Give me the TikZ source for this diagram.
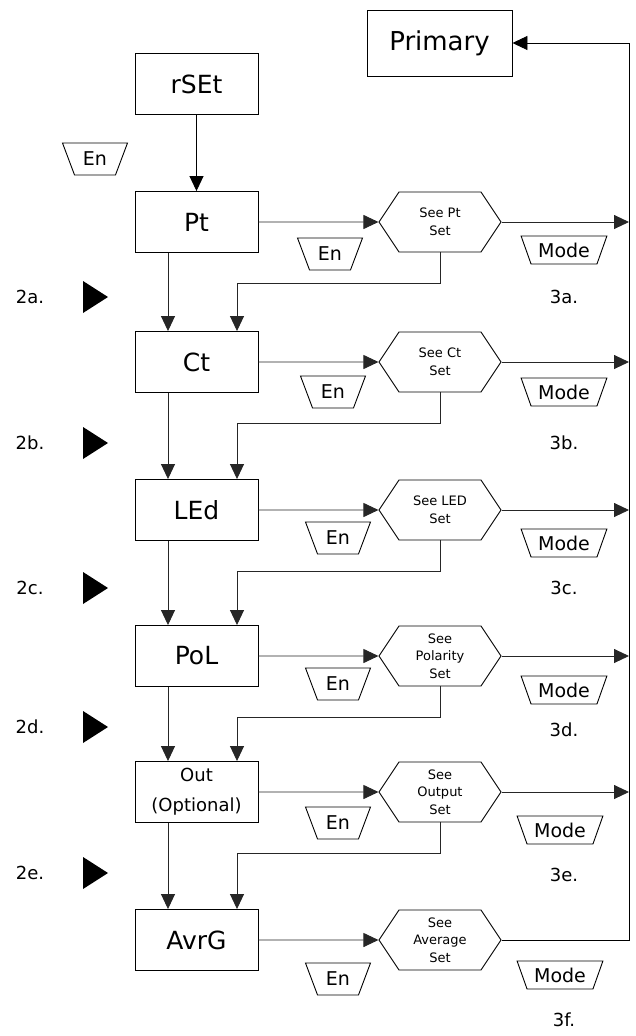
\documentclass[tikz,border=0pt]{standalone}
\usepackage{fontspec}
\setmainfont{DejaVu Sans}
\usetikzlibrary{calc}
\usetikzlibrary{shapes.geometric,shapes.symbols}
\usetikzlibrary{arrows.meta}

\begin{document}
\begin{tikzpicture}[x=1pt, y=-1pt, line width=0.9pt,
  flow/.style={-{Triangle[length=15pt,width=14pt]}},
  box/.style={draw, minimum width=123pt, minimum height=61pt, inner sep=0pt, align=center, font=\fontsize{25}{28}\selectfont},
  box 5/.style={font=\fontsize{18}{30}\selectfont},
  setbox/.style={draw, signal, signal to=east and west, signal pointer angle=112.6, minimum width=122pt, minimum height=60pt, inner sep=0pt, align=center, font=\fontsize{13}{17.5}\selectfont},
  key/.style={draw, trapezium, trapezium stretches=true, shape border rotate=180, trapezium left angle=63, trapezium right angle=63, minimum width=65pt, minimum height=32pt, inner sep=0pt, font=\fontsize{19}{20}\selectfont},
  modekey/.style={key, trapezium left angle=62, trapezium right angle=62, minimum width=86pt, minimum height=28pt},
  num/.style={font=\fontsize{18}{20}\selectfont},
  link/.style={flow, draw=black!85}]

\useasboundingbox (0,0) rectangle (636,1036);

\node [box] (rset) at (196.5,84) {rSEt};
\node [box, minimum width=145pt, minimum height=66pt, font=\fontsize{26}{28}\selectfont] (primary) at (439.5,43) {Primary};
\node [key] (en-0) at (95,159) {En};
\coordinate (rail) at (629,43);

\foreach \m/\l/\y in {1/Pt/222, 2/Ct/362, 3/LEd/510, 4/PoL/656, 5/{Out\\(Optional)}/792, 6/AvrG/940}
  \node [box, box \m/.try] (step-\m) at (196.5,\y) {\l};

\foreach \m/\l/\y in {1/{See Pt\\Set}/222, 2/{See Ct\\Set}/362, 3/{See LED\\Set}/510, 4/{See\\Polarity\\Set}/656, 5/{See\\Output\\Set}/792, 6/{See\\Average\\Set}/940}
  \node [setbox] (set-\m) at (440,\y) {\l};

\foreach \m/\x/\y in {1/330/254, 2/333/392, 3/338/538, 4/338/684, 5/338/823, 6/338/979}
  \node [key] (en-\m) at (\x,\y) {En};

\foreach \m/\x/\y in {1/564/250, 2/564/392, 3/564/543, 4/564/690, 5/560/830, 6/560/975}
  \node [modekey] (mode-\m) at (\x,\y) {Mode};

% left side markers
\foreach \l/\y in {a/297, b/443, c/588, d/727, e/873} {
  \node [num] (two-\l) at (30,\y) {2\l.};
  \fill (83,\y-16) -- (108,\y) -- (83,\y+16) -- cycle;
}

\foreach \l/\y in {a/297, b/443, c/588, d/730, e/875, f/1020}
  \node [num] (three-\l) at (564,\y) {3\l.};

\draw [flow] (rset) -- (step-1);

\foreach \i/\j in {1/2, 2/3, 3/4, 4/5, 5/6} {
  \draw [link] ([xshift=-28.5pt]step-\i.south) -- ([xshift=-28.5pt]step-\j.north);
  \draw [link] (set-\i.south) -- ++(0,31) -| ([xshift=40.5pt]step-\j.north);
}

\foreach \i in {1,...,6}
  \draw [link] (step-\i) -- (set-\i);

\foreach \i in {1,...,5}
  \draw [link] (set-\i.east) -- (set-\i.east -| rail);

\draw [flow] (set-6.east) -- (set-6.east -| rail) -- (rail) -- (primary);

\end{tikzpicture}
\end{document}
